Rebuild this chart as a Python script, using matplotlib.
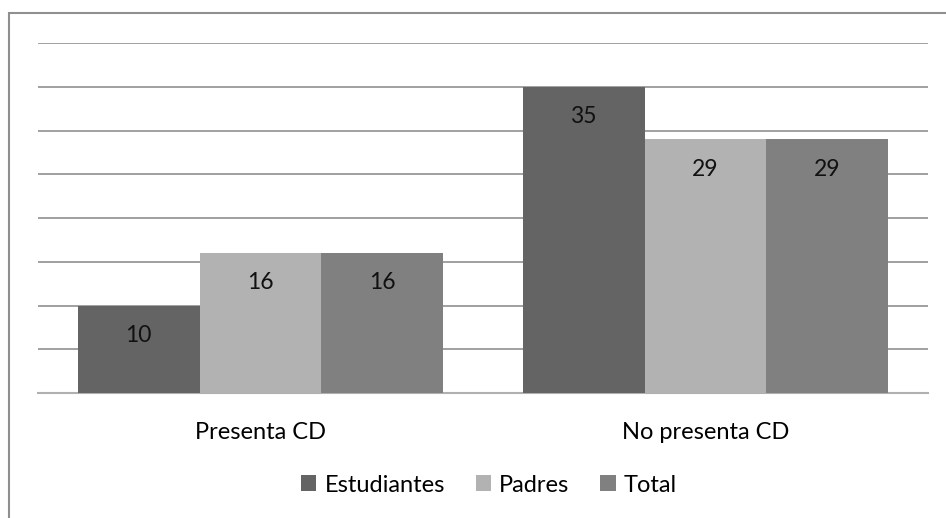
import numpy as np
import matplotlib.pyplot as plt
from matplotlib.patches import Rectangle

categories = ["Presenta CD", "No presenta CD"]
series = ["Estudiantes", "Padres", "Total"]
estudiantes = [10, 35]
padres = [16, 29]
total = [16, 29]
colors = ["#646464", "#b2b2b2", "#808080"]

plt.rcParams['font.family'] = ['Lato', 'DejaVu Sans']

fig = plt.figure(figsize=(9.46, 5.18), dpi=100)
ax = fig.add_axes([38/946, 1 - 393/518, 890/946, 350/518])

# chart frame, open at right and bottom like the exported picture
fig.patches.append(Rectangle((9/946, -0.1), 1.2, 0.1 + (1 - 13/518),
                             transform=fig.transFigure, fill=False,
                             edgecolor="#8f8f8f", linewidth=1.5))

x = np.arange(len(categories))
width = 0.274
for i, (name, vals) in enumerate(zip(series, [estudiantes, padres, total])):
    pos = x + (i - 1) * width
    ax.bar(pos, vals, width, color=colors[i], label=name, zorder=3)
    for p, v in zip(pos, vals):
        ax.text(p, v - 3.4, str(v), ha="center", va="center",
                fontsize=16.5, color="#111111", zorder=4)

ax.set_xlim(-0.5, 1.5)
ax.set_ylim(0, 40)
ax.set_yticks(np.arange(5, 45, 5))
ax.yaxis.grid(True, color="#868686", linewidth=1.1, zorder=0)
ax.tick_params(axis="y", length=0, labelleft=False)
ax.tick_params(axis="x", length=0, pad=21, labelsize=17)
ax.set_xticks(x)
ax.set_xticklabels(categories)
for s in ["top", "right", "left"]:
    ax.spines[s].set_visible(False)
ax.spines["bottom"].set_color("#b0b0b0")
ax.spines["bottom"].set_linewidth(1.5)

ax.legend(loc="center", bbox_to_anchor=(489 / 946, (518 - 485) / 518),
          bbox_transform=fig.transFigure, ncol=3, frameon=False,
          fontsize=17, handlelength=0.65, handleheight=0.65,
          handletextpad=0.35, columnspacing=1.3)

fig.savefig("out.png", dpi=100)
